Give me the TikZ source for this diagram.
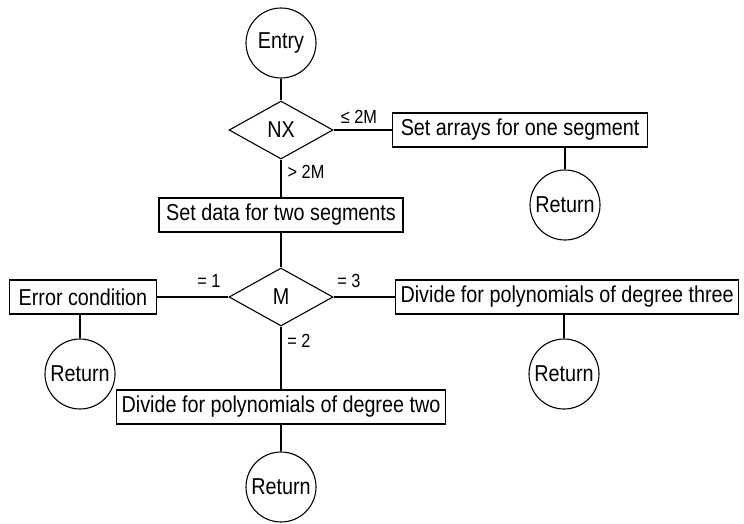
\documentclass[tikz,border=0pt]{standalone}
\usepackage{fontspec}
\setmainfont[FakeStretch=0.86]{Liberation Sans}
\usetikzlibrary{shapes.geometric}

\begin{document}
\begin{tikzpicture}[x=1pt, y=-1pt, line width=1.1pt,
    every node/.style={font=\fontsize{23}{26}\selectfont},
    term/.style={draw, circle, minimum size=70pt, inner sep=0pt},
    decision/.style={draw, diamond, minimum width=104pt, minimum height=58pt, inner sep=0pt},
    process/.style={draw, rectangle, minimum height=34pt, inner xsep=5pt, inner ysep=0pt},
    branch/.style={font=\fontsize{19}{22}\selectfont, inner sep=0pt}]
    \useasboundingbox (0,0) rectangle (744,523);

    % Entry and test on NX
    \node[term] (entry) at (281,43) {Entry};
    \node[decision] (nx) at (281,130) {NX};
    \node[process, anchor=west, minimum width=255pt] (onearr) at (392,130) {Set arrays for one segment};
    \node[term] (ret1) at (565,205) {Return};
    \node[process, minimum width=244pt] (twoseg) at (281,215) {Set data for two segments};

    % Test on M
    \node[decision] (m) at (281,297) {M};
    \node[process, anchor=east, minimum width=147pt] (err) at (157,297) {Error condition};
    \node[process, anchor=west, minimum width=343pt] (deg3) at (395,297) {Divide for polynomials of degree three};
    \node[term] (ret2) at (80,374) {Return};
    \node[term] (ret3) at (564,374) {Return};
    \node[process, minimum width=326pt] (deg2) at (281,407) {Divide for polynomials of degree two};
    \node[term] (ret4) at (281,487) {Return};

    % Connectors
    \draw (entry) -- (nx);
    \draw (nx) -- (onearr);
    \draw (ret1.north) -- (ret1.north |- onearr.south);
    \draw (nx) -- (twoseg);
    \draw (twoseg) -- (m);
    \draw (m) -- (err);
    \draw (m) -- (deg3);
    \draw (m) -- (deg2);
    \draw (deg2) -- (ret4);
    \draw (ret2.north) -- (ret2.north |- err.south);
    \draw (ret3.north) -- (ret3.north |- deg3.south);

    % Branch labels
    \node[branch] (le) at (359,117) {≤ 2M};
    \node[branch] (gt) at (306,172) {> 2M};
    \node[branch] (eq1) at (209,281) {= 1};
    \node[branch] (eq3) at (349,281) {= 3};
    \node[branch] (eq2) at (299,341) {= 2};
\end{tikzpicture}
\end{document}
